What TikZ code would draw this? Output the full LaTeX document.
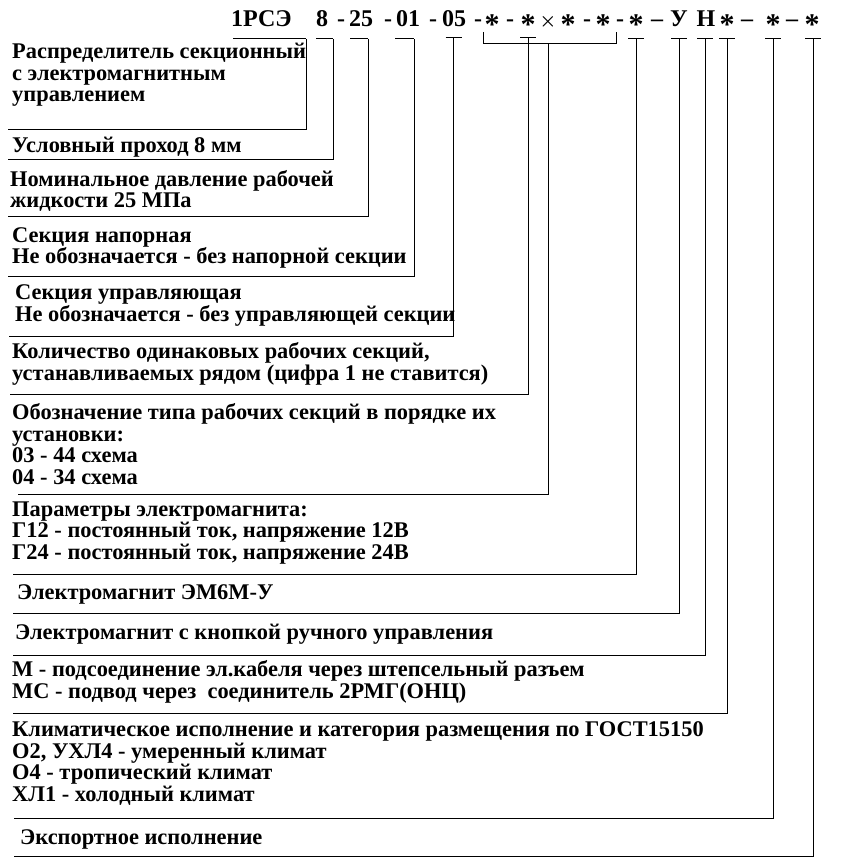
\documentclass[tikz,border=0pt]{standalone}
\usepackage{fontspec}
\setmainfont{Liberation Serif}
\newcommand\cstar{\raisebox{-0.3em}{\scalebox{1.25}{*}}}
\newcommand\ctimes{\scalebox{0.75}{$\times$}}
\tikzset{
  lbl/.style = {anchor=base west, inner sep=0, align=left,
                font=\bfseries\fontsize{22.4}{21.5}\selectfont},
  code/.style = {anchor=base, inner sep=0, font=\bfseries\boldmath\fontsize{24}{24}\selectfont},
  lead/.style = {line width=1pt}
}

\begin{document}
\begin{tikzpicture}[x=1pt, y=-1pt]
  \useasboundingbox (0,0) rectangle (840,866);

  % code line
  \node [code, anchor=base west] (c0) at (231,27) {1РСЭ};
  \foreach \t/\x [count=\i] in {8/322, -/341, 25/361, -/388, 01/408, -/433, 05/454,
      -/478, \cstar/492, -/510, \cstar/528, \ctimes/548, \cstar/568, -/587, \cstar/603,
      -/620, \cstar/636, --/657, У/679, Н/706, \cstar/727, --/747, \cstar/773, --/792, \cstar/812}
    \node [code] (c\i) at (\x,27) {\t};

  % leaders
  \foreach \yb/\xl/\xr/\yt in {130/8/306/39, 160/8/333/39, 217/8/368/39, 276/8/414/39,
      336/9/453.5/38, 394/10/528/38, 494/18/548/44, 574/13/636/39, 613/13/679/39,
      655/13/705/39, 713/13/727/39, 818/14/773/39, 856/14/813/39}
    \draw [lead] (\xl,\yb) -| (\xr,\yt);
  \foreach \a/\b in {233/306, 316/333, 350/368, 395/414}
    \draw [lead] (\a,39) -- (\b,39);
  \foreach \x/\y in {453.5/38, 528/38, 636/39, 679/39, 705/39, 727/39, 773/39, 813/39}
    \draw [lead] ({\x-8},\y) -- ({\x+8},\y);
  \draw [lead] (483,32) |- (616,44) -- (616,32);

  % labels (anchored at the baseline of the last line)
  \node [lbl] (l1) at (12,102) {Распределитель секционный\\с электромагнитным\\управлением};
  \node [lbl] (l2) at (12,153) {Условный проход 8 мм};
  \node [lbl] (l3) at (10,208) {Номинальное давление рабочей\\жидкости 25 МПа};
  \node [lbl] (l4) at (12,264) {Секция напорная\\Не обозначается - без напорной секции};
  \node [lbl] (l5) at (15,321) {Секция управляющая\\Не обозначается - без управляющей секции};
  \node [lbl] (l6) at (12,380) {Количество одинаковых рабочих секций,\\устанавливаемых рядом (цифра 1 не ставится)};
  \node [lbl] (l7) at (12,484) {Обозначение типа рабочих секций в порядке их\\установки:\\03 - 44 схема\\04 - 34 схема};
  \node [lbl] (l8) at (12,559) {Параметры электромагнита:\\Г12 - постоянный ток, напряжение 12В\\Г24 - постоянный ток, напряжение 24В};
  \node [lbl] (l9) at (17,599) {Электромагнит ЭМ6М-У};
  \node [lbl] (l10) at (15,639) {Электромагнит с кнопкой ручного управления};
  \node [lbl] (l11) at (12,698) {М - подсоединение эл.кабеля через штепсельный разъем\\МС - подвод через~ соединитель 2РМГ(ОНЦ)};
  \node [lbl] (l12) at (12,801) {Климатическое исполнение и категория размещения по ГОСТ15150\\О2, УХЛ4 - умеренный климат\\О4 - тропический климат\\ХЛ1 - холодный климат};
  \node [lbl] (l13) at (20,844) {Экспортное исполнение};
\end{tikzpicture}
\end{document}
